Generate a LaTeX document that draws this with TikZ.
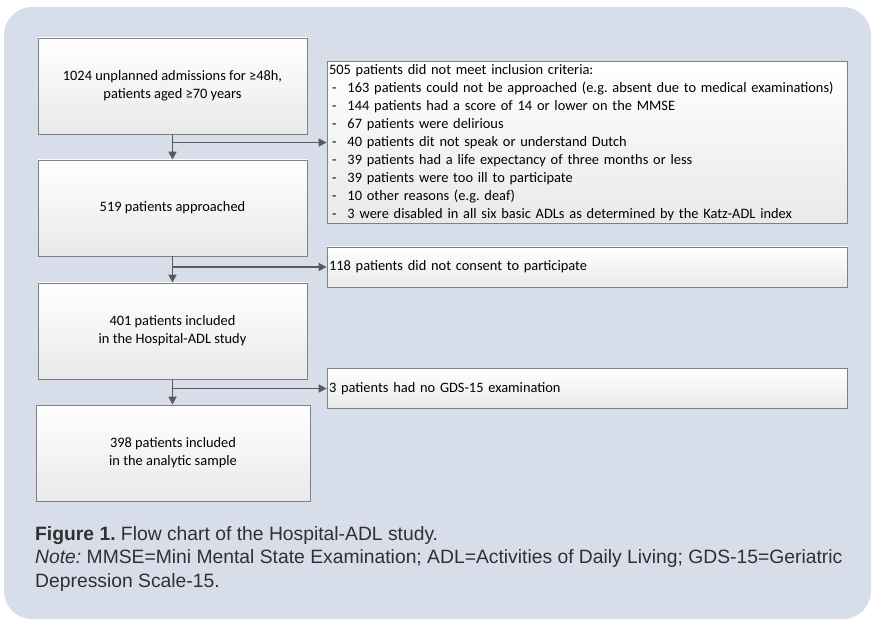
\documentclass[tikz,border=0pt]{standalone}
\usepackage{fontspec}
\setmainfont{Carlito}
\newfontfamily\capfont{Liberation Sans}
\usetikzlibrary{arrows.meta,shadows}
\definecolor{panel}{HTML}{D7DEE9}
\definecolor{edge}{HTML}{808080}
\definecolor{arrowc}{HTML}{5A5A5A}
\definecolor{boxbot}{HTML}{E9E9E9}
\definecolor{captxt}{HTML}{303030}
\newcommand\dashitem{\makebox[18.5pt][l]{\hspace{3pt}-}}
\tikzset{
  boxbase/.style={draw=edge, line width=0.8pt, top color=white, bottom color=boxbot,
    drop shadow={shadow xshift=0.8pt, shadow yshift=-0.8pt, opacity=0.25, fill=black},
    font=\fontsize{14.4}{18}\selectfont},
  mainbox/.style={boxbase, minimum width=269pt, minimum height=96pt, align=center},
  sidebox/.style={boxbase, text width=516pt, inner xsep=2pt, inner ysep=0pt, align=left},
  arr/.style={draw=arrowc, line width=1.6pt, -{Triangle[length=8pt,width=8pt]}},
  captext/.style={font=\capfont\fontsize{19.3}{23}\selectfont, text=captxt, anchor=base west, inner sep=0pt}
}
\begin{document}
\frenchspacing
\begin{tikzpicture}[x=1pt,y=-1pt]
\useasboundingbox (0,0) rectangle (873,620);
\fill[panel, rounded corners=28pt] (4,7) rectangle (871,619);

\node[mainbox] (b1) at (172.5,86) {1024 unplanned admissions for ≥48h,\\patients aged ≥70 years};
\node[mainbox] (b2) at (172.5,208) {519 patients approached};
\node[mainbox] (b3) at (172.5,331) {401 patients included\\in the Hospital-ADL study};
\node[mainbox, minimum width=274pt] (b4) at (173,453) {398 patients included\\in the analytic sample};

\node[sidebox, minimum height=162pt] (e1) at (587,142.5) {505 patients did not meet inclusion criteria:\\
\dashitem 163 patients could not be approached (e.g. absent due to medical examinations)\\
\dashitem 144 patients had a score of 14 or lower on the MMSE\\
\dashitem 67 patients were delirious\\
\dashitem 40 patients dit not speak or understand Dutch\\
\dashitem 39 patients had a life expectancy of three months or less\\
\dashitem 39 patients were too ill to participate\\
\dashitem 10 other reasons (e.g. deaf)\\
\dashitem 3 were disabled in all six basic ADLs as determined by the Katz-ADL index};
\node[sidebox, minimum height=40pt] (e2) at (587,267) {118 patients did not consent to participate};
\node[sidebox, minimum height=40pt] (e3) at (587,388.5) {3 patients had no GDS-15 examination};

\draw[arr] (b1.south) -- (b2.north);
\draw[arr] (b1.south |- e1.west) -- (e1.west);
\draw[arr] (b2.south) -- (b3.north);
\draw[arr] (b2.south |- e2.west) -- (e2.west);
\draw[arr] (b3.south) -- (b3.south |- b4.north);
\draw[arr] (b3.south |- e3.west) -- (e3.west);

\node[captext] (c1) at (35,540) {\textbf{Figure 1.} Flow chart of the Hospital-ADL study.};
\node[captext] (c2) at (35,563) {\textit{Note:} MMSE=Mini Mental State Examination; ADL=Activities of Daily Living; GDS-15=Geriatric};
\node[captext] (c3) at (35,587) {Depression Scale-15.};
\end{tikzpicture}
\end{document}
